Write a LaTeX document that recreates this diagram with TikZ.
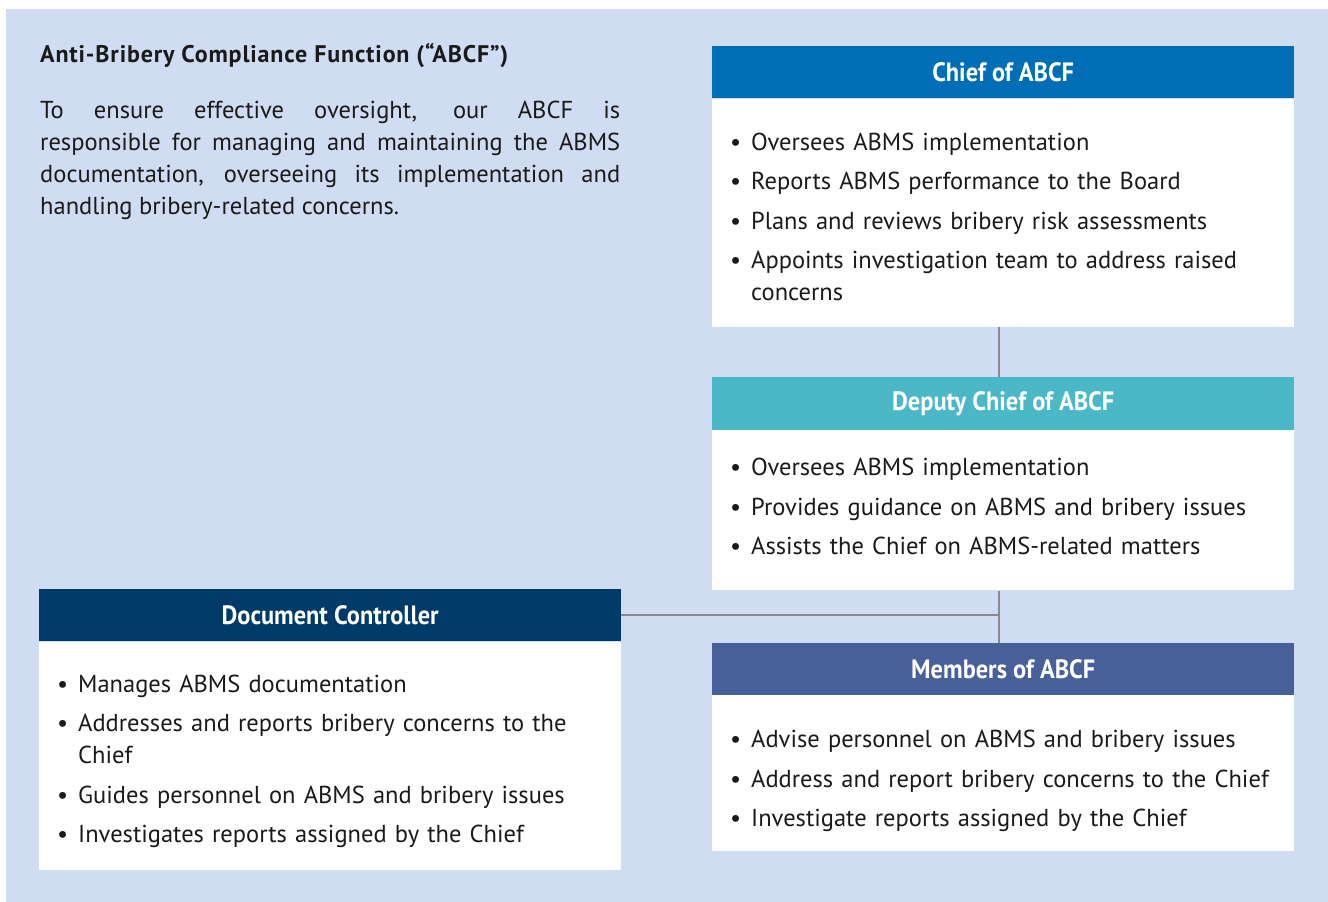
\documentclass[tikz,border=0pt]{standalone}
\usepackage{fontspec}
\setmainfont{PT Sans}
\newfontfamily\headfont{PT Sans}[FakeStretch=0.92]
\newfontfamily\titlefont{PT Sans}[LetterSpace=3.5]
\usetikzlibrary{positioning}
\definecolor{bgblue}{HTML}{CFDCF2}
\definecolor{chiefblue}{HTML}{006EB6}
\definecolor{deputyteal}{HTML}{4BB8C8}
\definecolor{docnavy}{HTML}{003A68}
\definecolor{memberblue}{HTML}{48609A}
\definecolor{linegrey}{HTML}{8A8A8A}
\definecolor{inkgrey}{HTML}{1A1A1A}
\newcommand{\bul}[1]{\hangindent=21pt\hangafter=1\noindent\makebox[21pt][l]{\textbullet}#1\par}

\begin{document}
\begin{tikzpicture}[x=1pt,y=-1pt,
  hd/.style={minimum width=582pt,minimum height=52pt,inner sep=0pt,text=white,
    font=\headfont\bfseries\fontsize{26.5}{30}\selectfont},
  bd/.style={fill=white,minimum width=582pt,inner sep=0pt},
  lst/.style={anchor=north west,inner sep=0pt,text width=560pt,align=left,text=inkgrey,
    font=\fontsize{24.5}{32}\selectfont},
  conn/.style={draw=linegrey,line width=1.5pt}]
  \useasboundingbox (0,0) rectangle (1328,902);
  \fill[bgblue] (6,9) rectangle (1328,902);

  \node[anchor=north west,inner sep=0pt,text=inkgrey,font=\titlefont\bfseries\fontsize{24}{28}\selectfont]
    (title) at (40,43) {Anti-Bribery Compliance Function (“ABCF”)};
  \node[anchor=north west,inner sep=0pt,text width=580pt,align=justify,text=inkgrey,
    font=\fontsize{24.5}{32}\selectfont] (intro) at (40,101)
    {To ensure effective oversight, our ABCF is\linebreak
     responsible for managing and maintaining the ABMS\linebreak
     documentation, overseeing its implementation and\linebreak
     handling bribery-related concerns.};

  \node[hd,fill=chiefblue,anchor=north west] (chiefhd) at (712,46) {Chief of ABCF};
  \node[bd,minimum height=228pt,below=0pt of chiefhd] (chiefbd) {};
  \node[lst,below right=34pt and 18pt of chiefbd.north west] (chieflst)
    {\setlength{\parskip}{7.5pt}%
     \bul{Oversees ABMS implementation}
     \bul{Reports ABMS performance to the Board}
     \bul{Plans and reviews bribery risk assessments}
     \bul{Appoints investigation team to address raised\newline concerns}};

  \node[hd,fill=deputyteal,minimum height=53pt,below=50pt of chiefbd] (deputyhd) {Deputy Chief of ABCF};
  \node[bd,minimum height=160pt,below=0pt of deputyhd] (deputybd) {};
  \node[lst,below right=28pt and 18pt of deputybd.north west] (deputylst)
    {\setlength{\parskip}{7.5pt}%
     \bul{Oversees ABMS implementation}
     \bul{Provides guidance on ABMS and bribery issues}
     \bul{Assists the Chief on ABMS-related matters}};

  \node[hd,fill=memberblue,below=52pt of deputybd] (membershd) {Members of ABCF};
  \node[bd,minimum height=156pt,below=0pt of membershd] (membersbd) {};
  \node[lst,below right=35pt and 18pt of membersbd.north west] (memberslst)
    {\setlength{\parskip}{7.5pt}%
     \bul{Advise personnel on ABMS and bribery issues}
     \bul{Address and report bribery concerns to the Chief}
     \bul{Investigate reports assigned by the Chief}};

  \node[hd,fill=docnavy,anchor=north west] (dochd) at (39,589) {Document Controller};
  \node[bd,minimum height=228pt,below=0pt of dochd] (docbd) {};
  \node[lst,below right=33pt and 18pt of docbd.north west] (doclst)
    {\setlength{\parskip}{7.5pt}%
     \bul{Manages ABMS documentation}
     \bul{Addresses and reports bribery concerns to the\newline Chief}
     \bul{Guides personnel on ABMS and bribery issues}
     \bul{Investigates reports assigned by the Chief}};

  \draw[conn] ([xshift=-4pt]chiefbd.south) -- ([xshift=-4pt]deputyhd.north);
  \draw[conn] ([xshift=-4pt]deputybd.south) -- ([xshift=-4pt]membershd.north);
  \draw[conn] (dochd.east) -- ([xshift=-4pt]dochd.east -| deputybd.south);
\end{tikzpicture}
\end{document}
